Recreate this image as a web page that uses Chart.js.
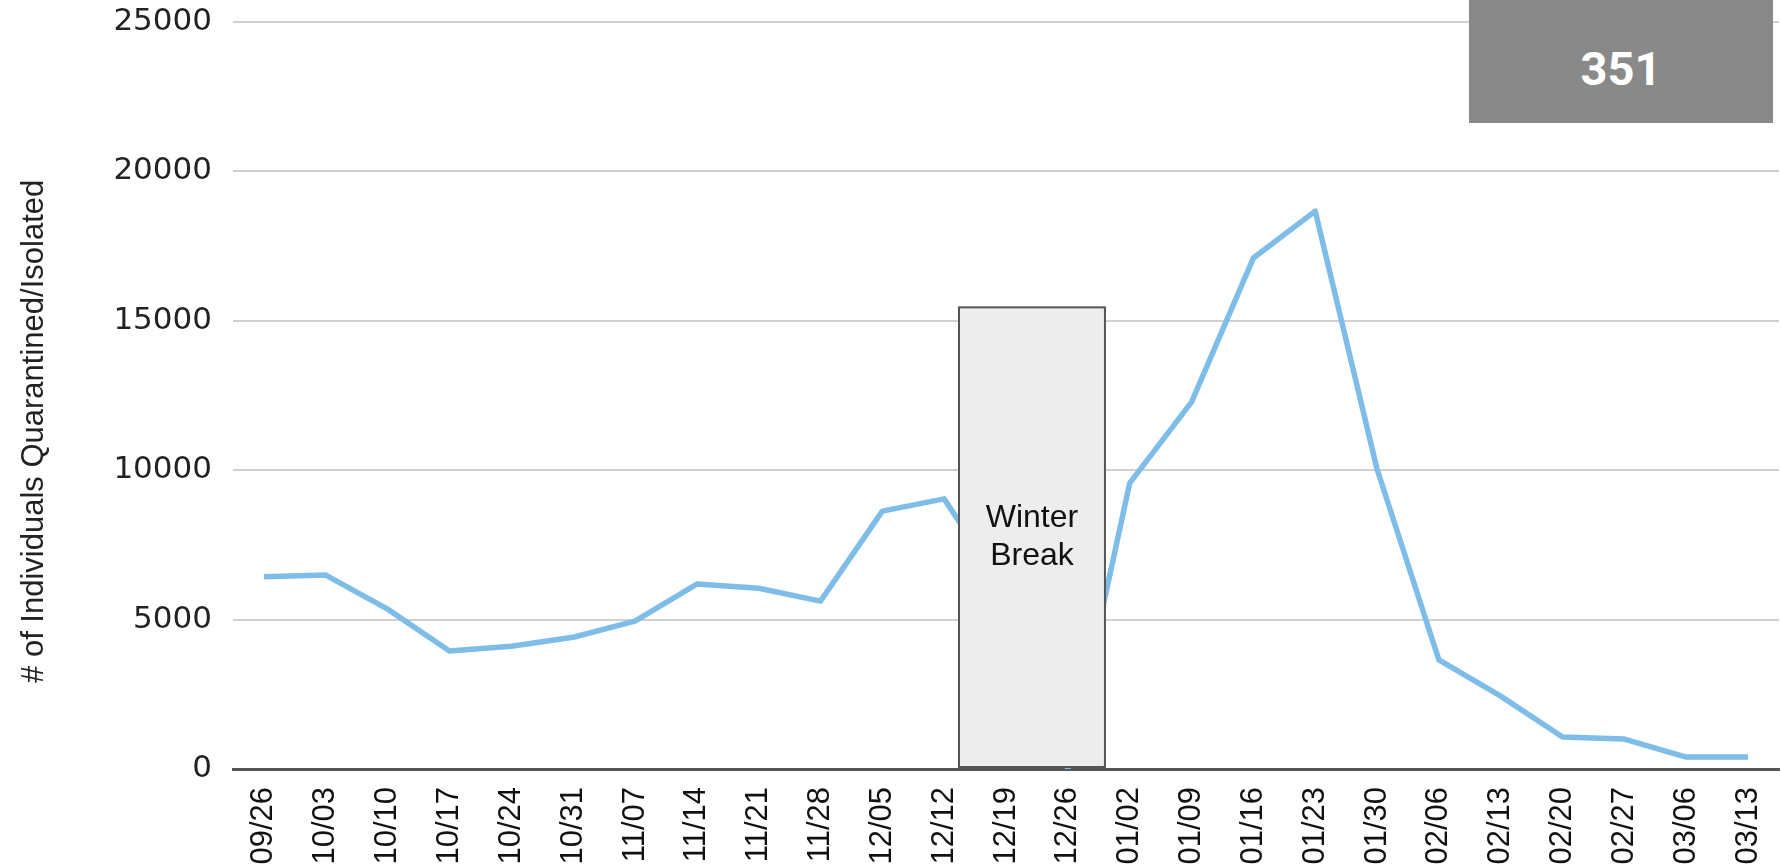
<!DOCTYPE html>
<html>
<head>
<meta charset="utf-8">
<script src="https://cdn.jsdelivr.net/npm/chart.js@4/dist/chart.umd.min.js"></script>
<style>
  html, body { margin: 0; padding: 0; background: #fff; }
  #wrap { position: relative; width: 1781px; height: 866px; }
  #c { position: absolute; left: 0; top: 0; }
  #badge {
    position: absolute; left: 1469px; top: 0; width: 304px; height: 123px;
    background: #898989; color: #fff; font-family: Roboto, "Liberation Sans", sans-serif;
    font-weight: bold; font-size: 47px; display: flex; align-items: center; justify-content: center;
    padding-top: 14px; box-sizing: border-box;
  }
</style>
</head>
<body>
<div id="wrap">
  <canvas id="c" width="1781" height="866"></canvas>
  <div id="badge">351</div>
</div>
<script>
// ---- data ----
const weeks = ["09/26","10/03","10/10","10/17","10/24","10/31","11/07","11/14","11/21","11/28",
               "12/05","12/12","12/19","12/26","01/02","01/09","01/16","01/23","01/30","02/06",
               "02/13","02/20","02/27","03/06","03/13"];
const quarantined = [6430, 6490, 5350, 3950, 4110, 4410, 4950, 6190, 6050, 5620,
                     8630, 9040, 5900, 0, 9570, 12280, 17100, 18670, 10040, 3650,
                     2440, 1070, 1000, 400, 400];
const yTicks = [0, 5000, 10000, 15000, 20000, 25000];
const breakWeeks = ["12/19", "12/26"];
const breakTop = [15450];
const breakLabel = ["Winter", "Break"];
const yTitle = "# of Individuals Quarantined/Isolated";

const winterBreakPlugin = {
  id: 'winterBreak',
  afterDatasetsDraw(chart) {
    const x = chart.scales.x, y = chart.scales.y, ctx = chart.ctx;
    const i0 = weeks.indexOf(breakWeeks[0]), i1 = weeks.indexOf(breakWeeks[1]);
    const cw = x.getPixelForValue(1) - x.getPixelForValue(0);
    const left = x.getPixelForValue(i0) - 0.76 * cw;
    const right = x.getPixelForValue(i1) + 0.6 * cw;
    const top = y.getPixelForValue(breakTop[0]);
    const bottom = y.getPixelForValue(0) - 2;
    ctx.save();
    ctx.fillStyle = '#ededed';
    ctx.strokeStyle = '#555';
    ctx.lineWidth = 2;
    ctx.fillRect(left, top, right - left, bottom - top);
    ctx.strokeRect(left, top, right - left, bottom - top);
    ctx.fillStyle = '#111';
    ctx.font = '32px "Liberation Sans", Arial, sans-serif';
    ctx.textAlign = 'center';
    ctx.textBaseline = 'middle';
    const cx = (left + right) / 2, cy = (top + bottom) / 2;
    ctx.fillText(breakLabel[0], cx, cy - 19);
    ctx.fillText(breakLabel[1], cx, cy + 19);
    ctx.restore();
  }
};

const yTitlePlugin = {
  id: 'yTitle',
  afterDraw(chart) {
    const ctx = chart.ctx, y = chart.scales.y;
    const cy = y.getPixelForValue(11300);
    ctx.save();
    ctx.translate(34, cy);
    ctx.rotate(-Math.PI / 2);
    ctx.fillStyle = '#222';
    ctx.font = '31px "Liberation Sans", Arial, sans-serif';
    ctx.textAlign = 'center';
    ctx.textBaseline = 'middle';
    ctx.fillText(yTitle, 0, 0);
    ctx.restore();
  }
};

new Chart(document.getElementById('c'), {
  type: 'line',
  data: {
    labels: weeks,
    datasets: [{
      data: quarantined,
      borderColor: '#7dbde8',
      borderWidth: 5.5,
      pointRadius: 0,
      tension: 0,
      fill: false,
      borderJoinStyle: 'round'
    }]
  },
  plugins: [winterBreakPlugin, yTitlePlugin],
  options: {
    responsive: false,
    animation: false,
    layout: { padding: { top: 22, right: 2, left: 0, bottom: 0 } },
    plugins: { legend: { display: false }, tooltip: { enabled: false } },
    scales: {
      x: {
        type: 'category',
        offset: true,
        grid: { display: false, drawTicks: false },
        border: { display: true, color: '#555', width: 3 },
        ticks: {
          minRotation: 90, maxRotation: 90, autoSkip: false, padding: 18,
          color: '#111',
          font: { family: '"Liberation Sans", Arial, sans-serif', size: 31 }
        },
        afterFit(s) { s.height = 97; s.paddingLeft = 0; s.paddingRight = 0; }
      },
      y: {
        min: 0, max: 25000,
        afterBuildTicks(s) { s.ticks = yTicks.map(v => ({ value: v })); },
        grid: { color: '#d0d0d0', lineWidth: 2, drawTicks: false },
        border: { display: false },
        ticks: {
          padding: 21, color: '#222',
          callback: (v) => String(v),
          font: { family: '"DejaVu Sans", sans-serif', size: 31 }
        },
        title: { display: false },
        afterFit(s) { s.width = 233; s.paddingTop = 0; s.paddingBottom = 0; }
      }
    }
  }
});
</script>
</body>
</html>
